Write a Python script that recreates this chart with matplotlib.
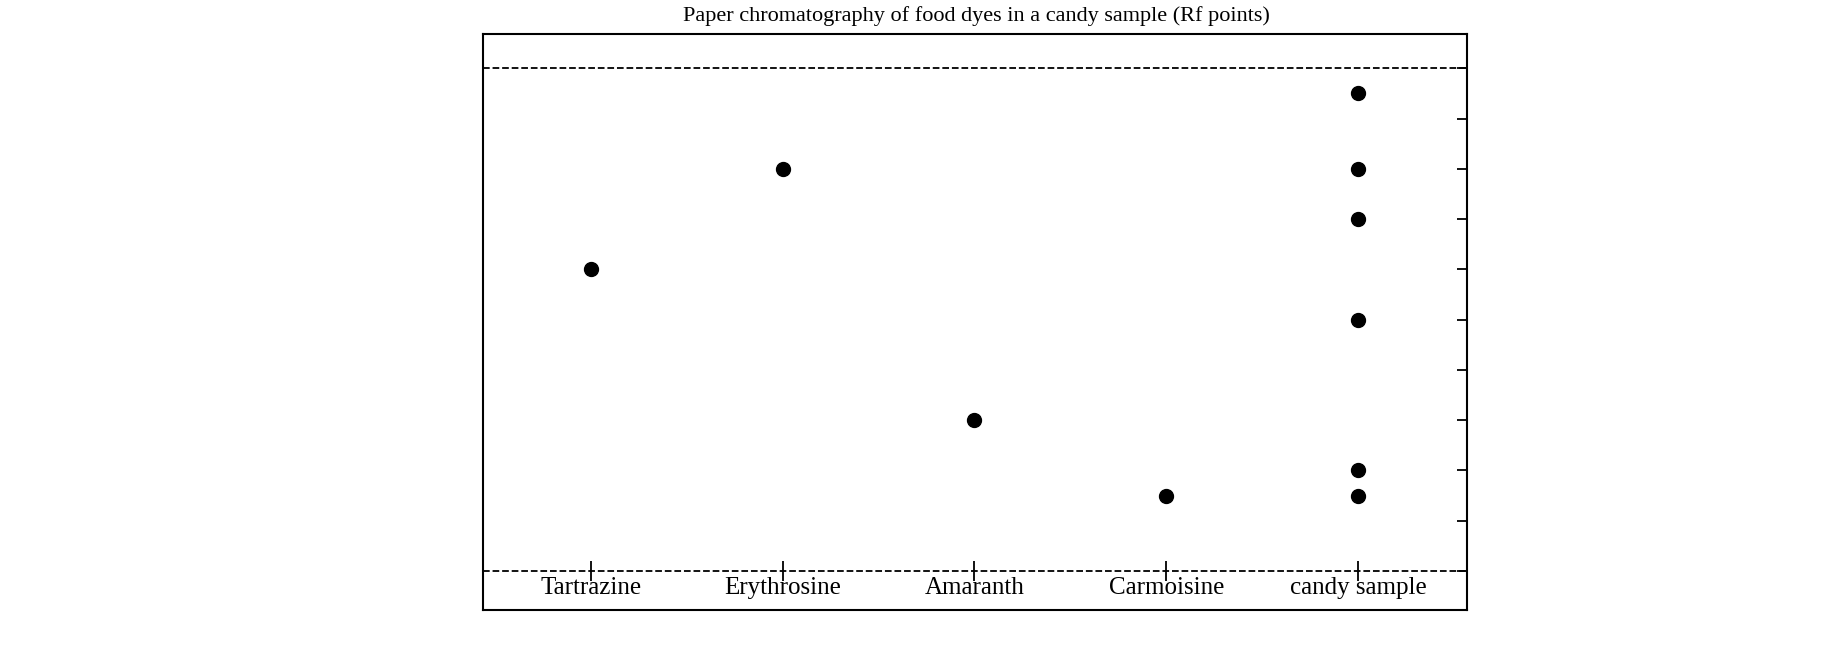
import matplotlib
matplotlib.use("Agg")
import matplotlib.pyplot as plt

categories = ["Tartrazine", "Erythrosine", "Amaranth", "Carmoisine", "candy sample"]
cat_idx = [0, 1, 2, 3, 4, 4, 4, 4, 4, 4]
rf_values = [0.6, 0.8, 0.3, 0.15, 0.95, 0.8, 0.7, 0.5, 0.2, 0.15]
y_ticks = [i / 10 for i in range(11)]

plt.rcParams['font.family'] = ['Liberation Serif', 'DejaVu Serif']
fig = plt.figure(figsize=(18.42, 6.52), dpi=100)
ax = fig.add_axes([0.262, 0.065, 0.5346, 0.8827])
ax.set_xlim(-0.564, 4.57)
ax.set_ylim(-0.077, 1.068)
ax.axhline(0, color='black', ls='--', lw=1.3)
ax.axhline(1, color='black', ls='--', lw=1.3)
ax.plot(cat_idx, rf_values, 'o', color='black', markersize=10)
ax.plot(range(len(categories)), [0] * len(categories), '|', color='black', markersize=14, mew=1.3)
for i, c in enumerate(categories):
    ax.text(i, -0.012, c, ha='center', va='top', fontsize=18)
ax.set_xticks([])
ax.yaxis.tick_right()
ax.set_yticks(y_ticks)
ax.set_yticklabels([])
ax.tick_params(axis='y', direction='in', length=7, width=1.3)
for s in ax.spines.values():
    s.set_linewidth(1.5)
fig.text(0.53, 0.975, "Paper chromatography of food dyes in a candy sample (Rf points)",
         ha='center', va='center', fontsize=16)
fig.savefig("out.png", dpi=100)
